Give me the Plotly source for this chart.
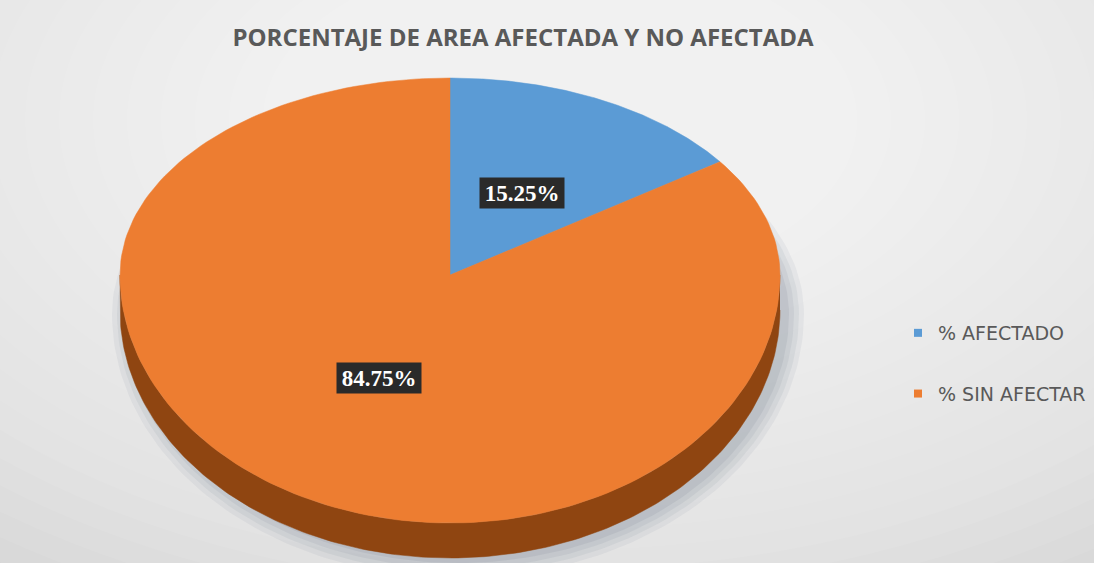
import numpy as np
import plotly.graph_objects as go

# ---- data ----
labels = ["% AFECTADO", "% SIN AFECTAR"]
values = [15.25, 84.75]
title_text = "PORCENTAJE DE AREA AFECTADA Y NO AFECTADA"

# ---- styles / geometry ----
colors = ["#5B9BD5", "#ED7D31"]
side_colors = ["#2f6494", "#8f4511"]
W, H = 1094, 563
CX, CY = 450, 275
RX, RY_TOP, RY_BOT, DEPTH = 330, 197, 248, 35


def pt(theta_deg, f=1.0):
    t = np.radians(theta_deg)
    ry = np.where(np.cos(t) >= 0, RY_TOP, RY_BOT)
    x = CX + RX * f * np.sin(t)
    y = CY - ry * f * np.cos(t)
    return x, y


fig = go.Figure()

# soft shadow under the pie
for k, a in enumerate([0.08, 0.09, 0.10, 0.12]):
    grow = 16 - k * 5
    th = np.linspace(0, 360, 241)
    t = np.radians(th)
    ry = np.where(np.cos(t) >= 0, RY_TOP + grow, RY_BOT + grow)
    sx = CX + 8 + (RX + grow) * np.sin(t)
    sy = CY + DEPTH + 4 - ry * np.cos(t)
    fig.add_trace(go.Scatter(x=sx, y=sy, mode="lines", fill="toself",
                             fillcolor=f"rgba(105,118,135,{a})", line=dict(width=0),
                             hoverinfo="skip", showlegend=False))

total = sum(values)
bounds = np.concatenate([[0], np.cumsum(values) / total * 360])

# side walls (visible front half: 90..270 deg)
for i in range(len(values)):
    a0, a1 = max(bounds[i], 90), min(bounds[i + 1], 270)
    if a1 <= a0:
        continue
    th = np.linspace(a0, a1, 200)
    x, y = pt(th)
    px = np.concatenate([x, x[::-1]])
    py = np.concatenate([y, (y + DEPTH)[::-1]])
    fig.add_trace(go.Scatter(x=px, y=py, mode="lines", fill="toself",
                             fillcolor=side_colors[i], line=dict(width=0.5, color=side_colors[i]),
                             hoverinfo="skip", showlegend=False))

# top faces
for i in range(len(values)):
    th = np.linspace(bounds[i], bounds[i + 1], 200)
    x, y = pt(th)
    px = np.concatenate([[CX], x, [CX]])
    py = np.concatenate([[CY], y, [CY]])
    fig.add_trace(go.Scatter(x=px, y=py, mode="lines", fill="toself",
                             fillcolor=colors[i], line=dict(width=0.5, color=colors[i]),
                             name=labels[i], hoverinfo="name", showlegend=False))

# legend entries
for i in range(len(values)):
    fig.add_trace(go.Scatter(x=[None], y=[None], mode="markers",
                             marker=dict(symbol="square", size=8, color=colors[i]),
                             name=labels[i], legendgroup=labels[i], showlegend=True))

# data labels
for i in range(len(values)):
    mid = (bounds[i] + bounds[i + 1]) / 2
    lx, ly = pt(mid, 0.47)
    fig.add_annotation(x=float(lx), y=float(ly), xref="x", yref="y",
                       text=f"<b>{values[i]:.2f}%</b>", showarrow=False,
                       font=dict(family="Liberation Serif", size=23, color="white"),
                       bgcolor="#2a2a2a", width=84, height=30, borderpad=0)

# background gradient shapes
shapes = []
steps = 28
for k in range(steps):
    f = 1 - k / steps
    rx, ry = 950 * f + 60, 560 * f + 30
    shapes.append(dict(type="circle", xref="x", yref="y", layer="below",
                       x0=560 - rx, x1=560 + rx, y0=120 - ry, y1=120 + ry,
                       fillcolor="rgba(255,255,255,0.065)", line=dict(width=0)))

fig.update_layout(
    width=W, height=H,
    margin=dict(l=0, r=0, t=0, b=0),
    paper_bgcolor="#d2d2d2", plot_bgcolor="rgba(0,0,0,0)",
    xaxis=dict(range=[0, W], visible=False, fixedrange=True),
    yaxis=dict(range=[H, 0], visible=False, fixedrange=True),
    shapes=shapes,
    title=dict(text=f"<b>{title_text}</b>", x=523 / W, y=1 - 38 / H,
               xanchor="center", yanchor="middle",
               font=dict(family="Open Sans", size=24, color="#595959")),
    legend=dict(x=898 / W, y=1 - 314 / H, xanchor="left", yanchor="top",
                font=dict(family="DejaVu Sans", size=19, color="#595959"),
                bgcolor="rgba(0,0,0,0)", traceorder="grouped", tracegroupgap=33,
                itemwidth=30),
    showlegend=True,
)

fig.write_html("out.html")
